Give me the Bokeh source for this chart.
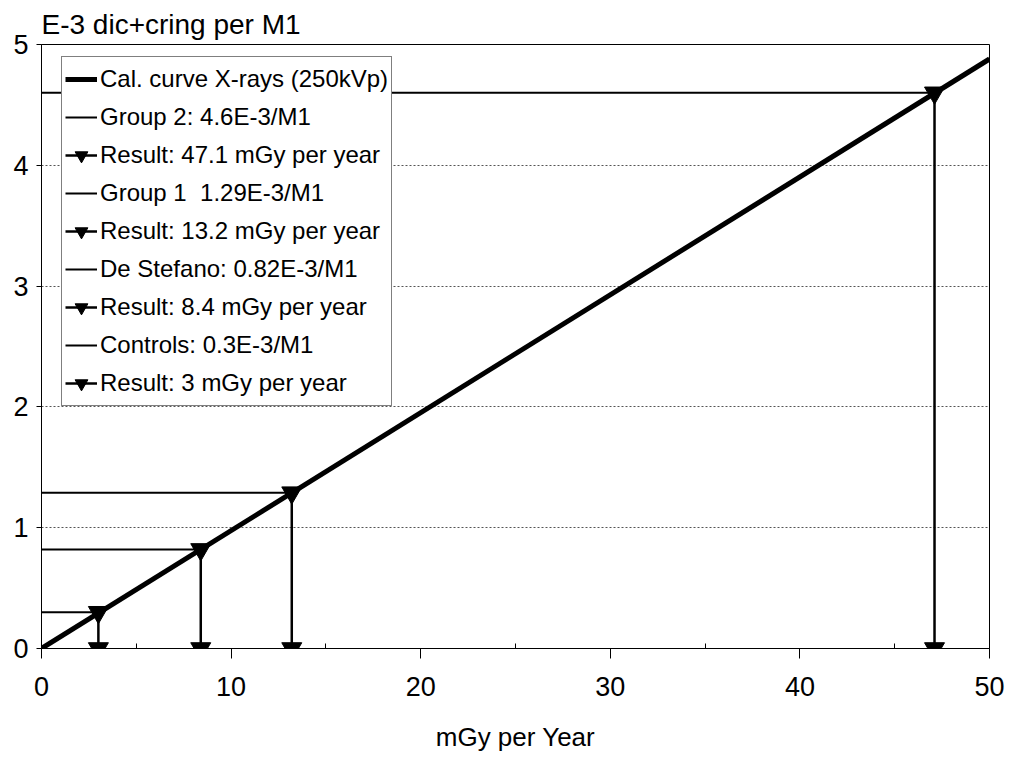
from bokeh.plotting import figure
from bokeh.models import Range1d, Legend, LegendItem, FixedTicker
from bokeh.embed import file_html
from bokeh.resources import INLINE

# ---- data ----
cal_dose = [0, 50]
cal_yield = [0, 4.88]
cal_label = "Cal. curve X-rays (250kVp)"
group_labels = ["Group 2: 4.6E-3/M1", "Group 1  1.29E-3/M1",
                "De Stefano: 0.82E-3/M1", "Controls: 0.3E-3/M1"]
result_labels = ["Result: 47.1 mGy per year", "Result: 13.2 mGy per year",
                 "Result: 8.4 mGy per year", "Result: 3 mGy per year"]
group_yield = [4.6, 1.29, 0.82, 0.3]
result_dose = [47.1, 13.2, 8.4, 3.0]
x_ticks = [0, 10, 20, 30, 40, 50]
y_ticks = [0, 1, 2, 3, 4, 5]

FONT = "Liberation Sans"

p = figure(width=1005, height=760, output_backend="svg", toolbar_location=None,
           x_range=Range1d(0, 50), y_range=Range1d(0, 5),
           min_border_left=41, min_border_right=16, min_border_top=44,
           min_border_bottom=112, background_fill_color="white",
           border_fill_color="white")

p.title.text = "E-3 dic+cring per M1"
p.title.align = "left"
p.title.text_font = FONT
p.title.text_font_size = "28px"
p.title.text_font_style = "normal"
p.title.text_color = "black"
p.title.standoff = 9
p.title.offset = 0

p.outline_line_color = "black"
p.outline_line_width = 1

p.xgrid.grid_line_color = None
p.ygrid.grid_line_color = "#555555"
p.ygrid.grid_line_dash = "2 2"
p.ygrid.grid_line_width = 1

p.xaxis.ticker = FixedTicker(ticks=x_ticks, minor_ticks=[5, 15, 25, 35, 45])
p.yaxis.ticker = FixedTicker(ticks=y_ticks)
for ax in (p.xaxis, p.yaxis):
    ax.axis_line_color = "black"
    ax.major_tick_line_color = "black"
    ax.minor_tick_line_color = "black"
    ax.major_label_text_font = FONT
    ax.major_label_text_font_size = "27px"
    ax.major_label_text_color = "black"
    ax.axis_label_text_font = FONT
    ax.axis_label_text_font_style = "normal"
    ax.axis_label_text_color = "black"
p.xaxis.major_tick_in = 0
p.xaxis.major_tick_out = 10
p.xaxis.minor_tick_in = 5
p.xaxis.minor_tick_out = 0
p.xaxis.major_label_standoff = 18
p.xaxis.axis_label = "mGy per Year"
p.xaxis.axis_label_text_font_size = "26px"
p.xaxis.axis_label_standoff = 23
p.yaxis.major_tick_in = 0
p.yaxis.major_tick_out = 5
p.yaxis.minor_tick_line_color = None
p.yaxis.major_label_standoff = 8

cal = p.line(cal_dose, cal_yield, line_color="black", line_width=5)
items = [LegendItem(label=cal_label, renderers=[cal])]

for lab_g, lab_r, yv, dv in zip(group_labels, result_labels, group_yield, result_dose):
    h = p.line([0, dv], [yv, yv], line_color="black", line_width=2)
    v = p.line([dv, dv], [yv, 0], line_color="black", line_width=2.5)
    m = p.scatter([dv, dv], [yv, 0], marker="inverted_triangle", size=20,
                  fill_color="black", line_color="black")
    items.append(LegendItem(label=lab_g, renderers=[h]))
    items.append(LegendItem(label=lab_r, renderers=[v, m]))

legend = Legend(items=items, location=(20, 242))
legend.label_text_font = FONT
legend.label_text_font_size = "24px"
legend.label_text_color = "black"
legend.label_height = 38
legend.glyph_height = 38
legend.glyph_width = 32
legend.label_standoff = 3
legend.spacing = 0
legend.padding = 3
legend.margin = 0
legend.border_line_color = "black"
legend.border_line_width = 1
legend.background_fill_alpha = 1
p.add_layout(legend, "center")

open("out.html", "w").write(file_html(p, INLINE))
